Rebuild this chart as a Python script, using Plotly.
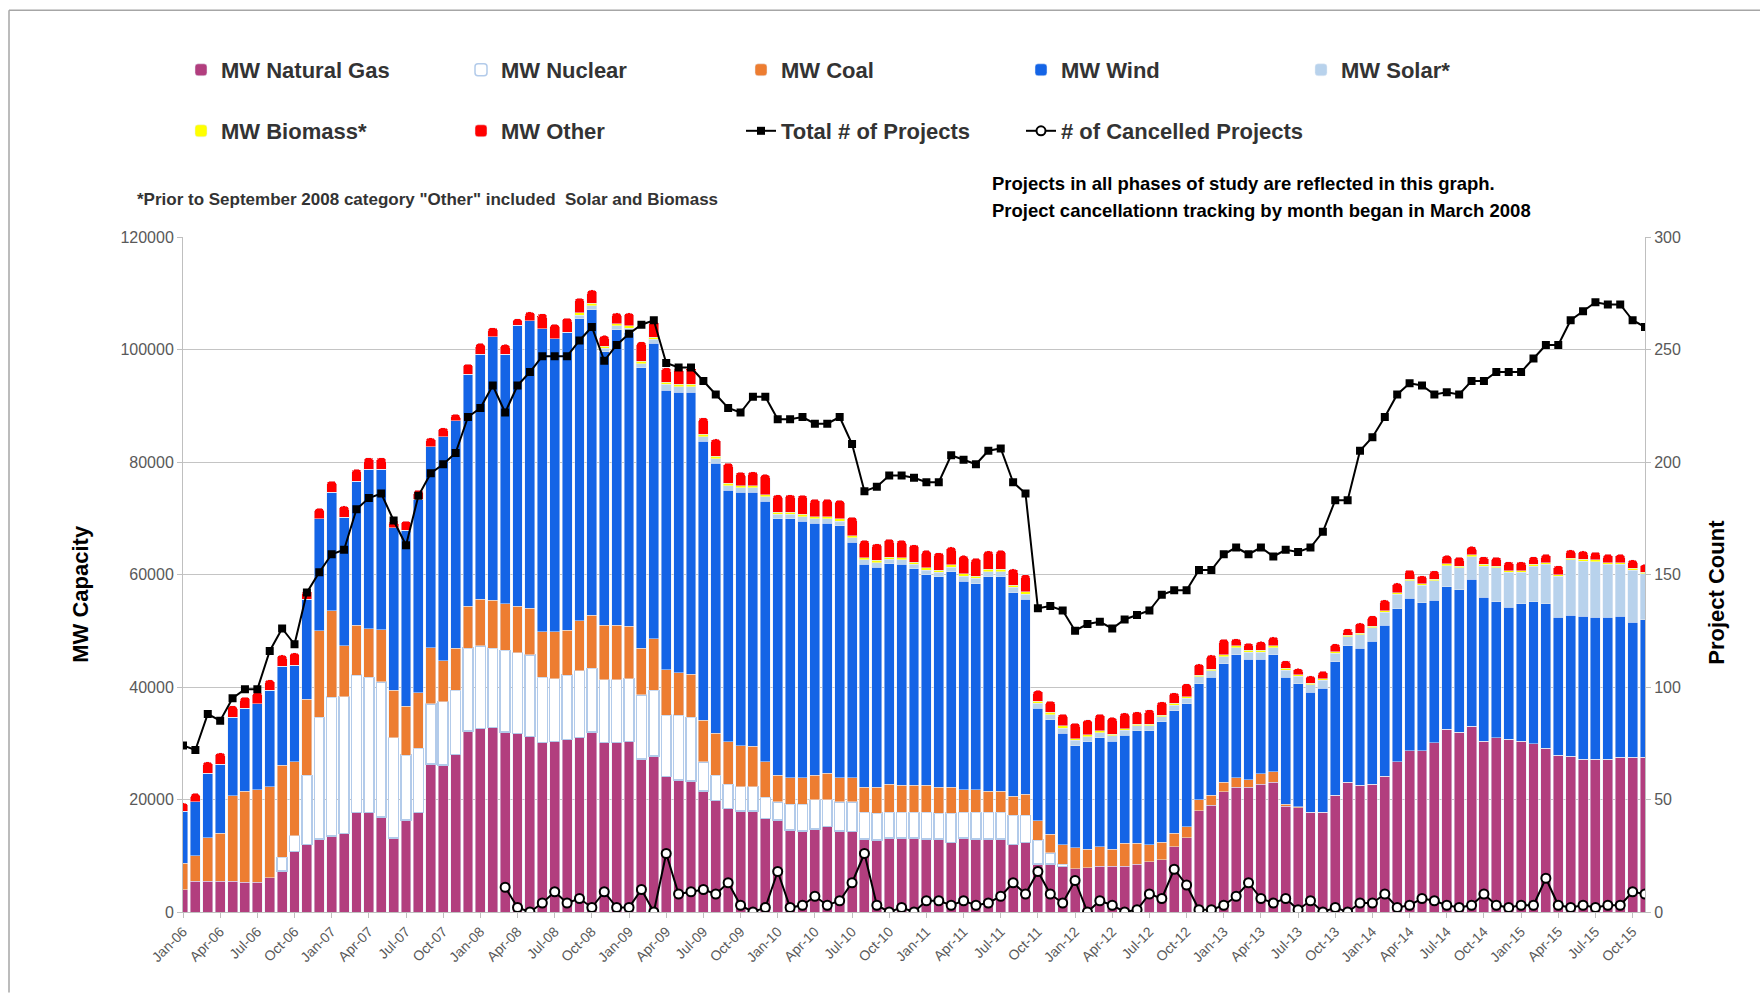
import plotly.graph_objects as go

# ---- categories (monthly, Jan-06 .. Nov-15) ----
month_names = ["Jan", "Feb", "Mar", "Apr", "May", "Jun", "Jul", "Aug", "Sep", "Oct", "Nov", "Dec"]
years = ["06", "07", "08", "09", "10", "11", "12", "13", "14", "15"]
months = [f"{m}-{y}" for y in years for m in month_names][:119]
tick_labels = months[::3]

# ---- series values (MW) ----
gas = [4000, 5500, 5500, 5500, 5500, 5300, 5300, 6100, 7300, 10800, 12000, 13000, 13500, 14000, 17700, 17700, 16900, 13200, 16400, 17700, 26300, 26100, 28000, 32200,
       32600, 32800, 32000, 31700, 31200, 30100, 30300, 30700, 31000, 32000, 30100, 30100, 30300, 27200, 27700, 24100, 23500, 23300, 21500, 19800, 18400, 18000, 18000, 16600,
       16400, 14600, 14400, 14800, 15200, 14400, 14300, 13000, 12800, 13200, 13200, 13200, 13000, 13000, 12400, 13200, 13000, 13000, 13000, 12000, 12400, 8500, 8500, 8100,
       7700, 7900, 8100, 8100, 8100, 8500, 8900, 9300, 11600, 13200, 18000, 19000, 21400, 22200, 22200, 22700, 23100, 18800, 18500, 17700, 17700, 20800, 23100, 22500,
       22700, 24100, 26700, 28700, 28700, 30100, 32500, 32000, 33000, 30400, 31000, 30700, 30400, 29900, 29100, 27900, 27700, 27200, 27200, 27200, 27500, 27500, 27500]

nuclear = [None, None, None, None, None, None, None, None, 2400, 2800, 12300, 21600, 24700, 24300, 24400, 24000, 24000, 17800, 11500, 11400, 10700, 11300, 11400, 14700,
           14700, 14100, 14500, 14400, 14500, 11600, 11200, 11400, 11900, 11300, 11200, 11200, 11200, 11400, 11700, 10900, 11500, 11300, 5200, 4500, 4300, 4300, 4300, 3800,
           3200, 4600, 4800, 5200, 4800, 5200, 5300, 4700, 4800, 4500, 4500, 4500, 4700, 4600, 5200, 4500, 4700, 4700, 4700, 5200, 4800, 4300, 2000, 400,
           None, None, None, None, None, None, None, None, None, None, None, None, None, None, None, None, None, None, None, None, None, None, None, None,
           None, None, None, None, None, None, None, None, None, None, None, None, None, None, None, None, None, None, None, None, None, None, None]

coal = [4700, 4500, 7700, 8500, 15200, 16200, 16400, 16200, 16400, 13100, 13500, 15400, 15400, 9000, 8900, 8700, 9300, 8400, 8700, 9900, 10000, 7300, 7500, 7500,
        8300, 8500, 8300, 8300, 8300, 8100, 8300, 8000, 8900, 9500, 9700, 9700, 9300, 8300, 9200, 8100, 7500, 7700, 7400, 7500, 7600, 7300, 7200, 6300,
        4700, 4700, 4700, 4300, 4700, 4300, 4300, 4500, 4600, 5000, 4800, 4800, 4800, 4600, 4600, 4000, 4000, 3800, 3800, 3400, 3700, 3400, 3300, 3500,
        3700, 3300, 3500, 3100, 4100, 3700, 3100, 3100, 2400, 2000, 2000, 1800, 1700, 1700, 1300, 1900, 1800, 400, 200, 0, 0, 0, 0, 0,
        0, 0, 0, 0, 0, 0, 0, 0, 0, 0, 0, 0, 0, 0, 0, 0, 0, 0, 0, 0, 0, 0, 0]

wind = [9200, 9600, 11500, 12300, 13900, 14700, 15300, 17100, 17600, 17200, 17800, 19900, 21000, 22900, 25600, 28300, 28500, 28900, 31300, 34400, 35700, 39800, 40400, 41200,
        43600, 46900, 44400, 49900, 51100, 53900, 52100, 53000, 53700, 54300, 48600, 52500, 52300, 49900, 52500, 49700, 49900, 50100, 49600, 48000, 44700, 45000, 45100, 46300,
        45600, 46000, 45600, 44800, 44400, 44800, 41800, 39600, 39100, 39200, 39300, 38500, 37500, 37400, 38300, 37100, 36700, 38100, 38100, 36200, 34700, 20000, 20400, 19800,
        18200, 19100, 19400, 19200, 19200, 20000, 20200, 21400, 21800, 21800, 20600, 20900, 21000, 21800, 21400, 20300, 20800, 22500, 21900, 21400, 22100, 23700, 24200, 24400,
        25400, 26900, 27200, 27100, 26300, 25300, 25300, 25300, 26200, 25600, 24200, 23500, 24400, 25300, 25700, 24500, 25100, 25400, 25200, 25200, 25100, 24000, 24500]

solar = [0, 0, 0, 0, 0, 0, 0, 0, 0, 0, 0, 0, 0, 0, 0, 0, 0, 0, 0, 0, 0, 0, 0, 0,
         0, 0, 0, 0, 0, 0, 0, 0, 600, 700, 600, 700, 700, 700, 700, 1000, 1000, 1000, 800, 800, 800, 800, 800, 800,
         800, 800, 800, 800, 800, 800, 800, 800, 800, 800, 800, 800, 800, 800, 800, 900, 900, 900, 900, 900, 900, 900, 900, 900,
         900, 900, 900, 900, 900, 900, 900, 900, 1000, 1000, 1200, 1200, 1300, 1300, 1300, 1300, 1300, 1300, 1300, 1300, 1400, 1500, 1600, 2400,
         2400, 2300, 2600, 3100, 3100, 3500, 3800, 3900, 4000, 5500, 6000, 6200, 5600, 6300, 7000, 7300, 9800, 9800, 9900, 9400, 9200, 9300, 8100]

biomass = [0, 0, 0, 0, 0, 0, 0, 0, 0, 0, 0, 0, 0, 0, 0, 0, 0, 0, 0, 0, 0, 0, 0, 0,
           0, 0, 0, 0, 0, 0, 0, 0, 400, 400, 400, 400, 400, 400, 400, 400, 400, 400, 400, 400, 400, 400, 400, 400,
           400, 400, 400, 400, 400, 400, 400, 400, 400, 400, 400, 400, 400, 400, 400, 400, 400, 400, 400, 400, 400, 400, 400, 400,
           300, 300, 300, 300, 300, 300, 300, 300, 300, 300, 300, 300, 300, 300, 300, 300, 300, 300, 300, 300, 300, 300, 300, 300,
           300, 300, 300, 300, 300, 300, 300, 300, 300, 300, 300, 300, 300, 300, 300, 300, 300, 300, 300, 300, 300, 300, 300]

other = [1500, 1500, 2000, 2000, 2100, 2000, 2100, 1900, 2000, 2200, 1600, 1900, 2000, 2000, 2100, 2100, 2100, 1300, 1600, 1600, 1600, 1600, 1200, 1800,
         1900, 1600, 1700, 1200, 1600, 2700, 2600, 2500, 2600, 2400, 1900, 1900, 2300, 3500, 2900, 2600, 3000, 3000, 3000, 3100, 3600, 2400, 2500, 3600,
         3100, 3100, 3400, 3100, 3100, 3300, 3300, 3100, 3000, 3200, 3100, 3100, 3100, 3100, 3200, 3300, 3200, 3300, 3400, 2900, 3100, 1900, 2000, 2100,
         2800, 2700, 3000, 3000, 2800, 2200, 2600, 2400, 1900, 2300, 2000, 2500, 2800, 1300, 1300, 1600, 1600, 1400, 1100, 1300, 1300, 1400, 1200, 1800,
         1900, 1900, 1700, 1600, 1400, 1500, 1500, 1600, 1500, 1400, 1600, 1600, 1600, 1400, 1500, 1600, 1500, 1500, 1400, 1500, 1500, 1500, 1400]

# ---- project counts ----
total_projects = [74, 72, 88, 85, 95, 99, 99, 116, 126, 119, 142, 151, 159, 161, 179, 184, 186, 174, 163, 185, 195, 199, 204, 220,
                  224, 234, 222, 234, 240, 247, 247, 247, 254, 260, 245, 252, 257, 261, 263, 244, 242, 242, 236, 230, 224, 222, 229, 229,
                  219, 219, 220, 217, 217, 220, 208, 187, 189, 194, 194, 193, 191, 191, 203, 201, 199, 205, 206, 191, 186, 135, 136, 134,
                  125, 128, 129, 126, 130, 132, 134, 141, 143, 143, 152, 152, 159, 162, 159, 162, 158, 161, 160, 162, 169, 183, 183, 205,
                  211, 220, 230, 235, 234, 230, 231, 230, 236, 236, 240, 240, 240, 246, 252, 252, 263, 267, 271, 270, 270, 263, 260]

cancelled = [None, None, None, None, None, None, None, None, None, None, None, None, None, None, None, None, None, None, None, None, None, None, None, None,
             None, None, 11, 2, 0, 4, 9, 4, 6, 2, 9, 2, 2, 10, 0, 26, 8, 9, 10, 8, 13, 3, 0, 2,
             18, 2, 3, 7, 3, 5, 13, 26, 3, 0, 2, 0, 5, 5, 3, 5, 3, 4, 7, 13, 8, 18, 8, 4,
             14, 0, 5, 3, 0, 1, 8, 6, 19, 12, 1, 1, 3, 7, 13, 6, 4, 6, 1, 5, 0, 2, 0, 4,
             4, 8, 2, 3, 6, 5, 3, 2, 3, 8, 3, 2, 3, 3, 15, 3, 2, 3, 2, 3, 3, 9, 8]

# ---- geometry helpers (pixel -> paper) ----
W, H = 1760, 993
PL, PR, PT, PB = 183, 1645, 237, 912.5
def px(x):
    return (x - PL) / (PR - PL)
def py(y):
    return (PB - y) / (PB - PT)

TXT = "#333333"
FONT = "Liberation Sans, Arial, sans-serif"

fig = go.Figure()

bar_specs = [
    ("MW Natural Gas", gas, dict(color="#b23e7e"), "legend"),
    ("MW Nuclear", nuclear, dict(color="#ffffff", line=dict(color="#b3cbea", width=1.5)), "legend"),
    ("MW Coal", coal, dict(color="#ed7d31"), "legend"),
    ("MW Wind", wind, dict(color="#1464e6"), "legend"),
    ("MW Solar*", solar, dict(color="#b8d2ec"), "legend"),
    ("MW Biomass*", biomass, dict(color="#ffff00"), "legend2"),
    ("MW Other", other, dict(color="#ff0000"), "legend2"),
]
for name, vals, mk, lg in bar_specs:
    fig.add_trace(go.Bar(x=months, y=vals, name=name, marker=mk, legend=lg))

fig.add_trace(go.Scatter(x=months, y=total_projects, name="Total # of Projects", yaxis="y2",
                         mode="lines+markers", line=dict(color="black", width=2),
                         marker=dict(symbol="square", size=8, color="black"), legend="legend2"))
fig.add_trace(go.Scatter(x=months, y=cancelled, name="# of Cancelled Projects", yaxis="y2",
                         mode="lines+markers", line=dict(color="black", width=2),
                         marker=dict(symbol="circle", size=9, color="white", line=dict(color="black", width=2)),
                         legend="legend3"))

LFONT = dict(family=FONT, size=22, color=TXT, weight="bold")
legend_common = dict(orientation="h", xref="container", yref="container", xanchor="left", yanchor="middle",
                     traceorder="normal", font=LFONT, bgcolor="rgba(0,0,0,0)")
row1_y = 1 - 70 / H
row2_y = 1 - 131 / H

fig.update_layout(
    width=W, height=H,
    paper_bgcolor="white", plot_bgcolor="white",
    font=dict(family=FONT, color="#595959"),
    barmode="stack", bargap=0.2, barcornerradius=4,
    margin=dict(l=PL, r=W - PR, t=PT, b=H - PB),
    legend=dict(x=181 / W, y=row1_y, entrywidth=235, entrywidthmode="pixels", **legend_common),
    legend2=dict(x=181 / W, y=row2_y, entrywidth=235, entrywidthmode="pixels", **legend_common),
    legend3=dict(x=1021 / W, y=row2_y, **legend_common),
    xaxis=dict(type="category", range=[0, len(months) - 1], tickmode="array",
               tickvals=tick_labels, ticktext=tick_labels, tickangle=-45,
               tickfont=dict(size=14, color="#595959"), ticks="outside", ticklen=5,
               tickcolor="#bfbfbf", showline=True, linecolor="#bfbfbf", showgrid=False),
    yaxis=dict(range=[0, 120000], dtick=20000, tickformat="d", showgrid=True, gridcolor="#c4c4c4",
               showline=True, linecolor="#bfbfbf", ticks="outside", ticklen=5, tickcolor="#bfbfbf",
               tickfont=dict(size=16, color="#595959"), zeroline=False),
    yaxis2=dict(range=[0, 300], dtick=50, overlaying="y", side="right", showgrid=False,
                showline=True, linecolor="#bfbfbf", ticks="outside", ticklen=5, tickcolor="#bfbfbf",
                tickfont=dict(size=16, color="#595959"), zeroline=False),
    annotations=[
        dict(text="MW Capacity", xref="paper", yref="paper", x=px(81), y=py(594),
             xanchor="center", yanchor="middle", textangle=-90, showarrow=False,
             font=dict(family=FONT, size=22, color="black", weight="bold")),
        dict(text="Project Count", xref="paper", yref="paper", x=px(1717), y=py(593),
             xanchor="center", yanchor="middle", textangle=-90, showarrow=False,
             font=dict(family=FONT, size=22, color="black", weight="bold")),
        dict(text="*Prior to September 2008 category \"Other\" included  Solar and Biomass",
             xref="paper", yref="paper", x=px(135), y=py(199), xanchor="left", yanchor="middle",
             showarrow=False, font=dict(family=FONT, size=17, color=TXT, weight="bold")),
        dict(text="Projects in all phases of study are reflected in this graph.",
             xref="paper", yref="paper", x=px(990), y=py(183), xanchor="left", yanchor="middle",
             showarrow=False, font=dict(family=FONT, size=18.5, color="black", weight="bold")),
        dict(text="Project cancellationn tracking by month began in March 2008",
             xref="paper", yref="paper", x=px(990), y=py(210), xanchor="left", yanchor="middle",
             showarrow=False, font=dict(family=FONT, size=18.5, color="black", weight="bold")),
    ],
    shapes=[
        dict(type="line", xref="paper", yref="paper", x0=px(9), x1=px(1760), y0=py(10), y1=py(10),
             line=dict(color="#a6a6a6", width=1.5)),
        dict(type="line", xref="paper", yref="paper", x0=px(9), x1=px(9), y0=py(10), y1=py(993),
             line=dict(color="#a6a6a6", width=1.5)),
    ],
)

fig.write_html("out.html", post_script="document.body.style.margin='0px';",
               config={"displayModeBar": False})
